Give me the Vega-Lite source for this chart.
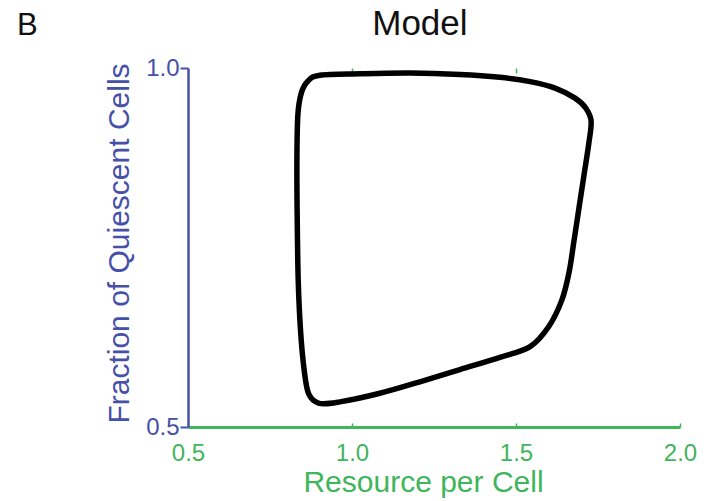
{
  "$schema": "https://vega.github.io/schema/vega-lite/v6.json",
  "autosize": "none",
  "width": 492,
  "height": 359,
  "padding": {"left": 188, "top": 68, "right": 42, "bottom": 74},
  "background": "white",
  "config": {
    "view": {"stroke": null},
    "font": "Liberation Sans",
    "axis": {"grid": false, "labelFont": "Liberation Sans", "titleFont": "Liberation Sans", "titleFontWeight": "normal", "labelFlush": false, "labelOverlap": false}
  },
  "datasets": {
    "cycle": [
      {"i": 1, "resource": 0.902, "quiescent": 0.990},
      {"i": 2, "resource": 1.024, "quiescent": 0.992},
      {"i": 3, "resource": 1.177, "quiescent": 0.993},
      {"i": 4, "resource": 1.329, "quiescent": 0.991},
      {"i": 5, "resource": 1.451, "quiescent": 0.987},
      {"i": 6, "resource": 1.543, "quiescent": 0.981},
      {"i": 7, "resource": 1.619, "quiescent": 0.972},
      {"i": 8, "resource": 1.680, "quiescent": 0.958},
      {"i": 9, "resource": 1.713, "quiescent": 0.944},
      {"i": 10, "resource": 1.729, "quiescent": 0.926},
      {"i": 11, "resource": 1.722, "quiescent": 0.895},
      {"i": 12, "resource": 1.707, "quiescent": 0.850},
      {"i": 13, "resource": 1.692, "quiescent": 0.805},
      {"i": 14, "resource": 1.677, "quiescent": 0.760},
      {"i": 15, "resource": 1.662, "quiescent": 0.716},
      {"i": 16, "resource": 1.640, "quiescent": 0.677},
      {"i": 17, "resource": 1.600, "quiescent": 0.640},
      {"i": 18, "resource": 1.543, "quiescent": 0.612},
      {"i": 19, "resource": 1.451, "quiescent": 0.597},
      {"i": 20, "resource": 1.329, "quiescent": 0.580},
      {"i": 21, "resource": 1.207, "quiescent": 0.563},
      {"i": 22, "resource": 1.085, "quiescent": 0.547},
      {"i": 23, "resource": 0.963, "quiescent": 0.535},
      {"i": 24, "resource": 0.900, "quiescent": 0.533},
      {"i": 25, "resource": 0.868, "quiescent": 0.546},
      {"i": 26, "resource": 0.854, "quiescent": 0.580},
      {"i": 27, "resource": 0.843, "quiescent": 0.635},
      {"i": 28, "resource": 0.836, "quiescent": 0.705},
      {"i": 29, "resource": 0.833, "quiescent": 0.790},
      {"i": 30, "resource": 0.832, "quiescent": 0.870},
      {"i": 31, "resource": 0.835, "quiescent": 0.935},
      {"i": 32, "resource": 0.846, "quiescent": 0.966},
      {"i": 33, "resource": 0.866, "quiescent": 0.982}
    ],
    "headings": [
      {"tag": "B", "resource": -0.021, "quiescent": 1.046},
      {"tag": "Model", "resource": 1.207, "quiescent": 1.046}
    ]
  },
  "layer": [
    {
      "data": {"name": "cycle"},
      "mark": {"type": "line", "interpolate": "cardinal-closed", "stroke": "#000000", "strokeWidth": 5.5, "strokeJoin": "round"},
      "encoding": {
        "x": {
          "field": "resource",
          "type": "quantitative",
          "scale": {"domain": [0.5, 2.0], "nice": false, "zero": false},
          "axis": {
            "orient": "bottom",
            "values": [0.5, 1.0, 1.5, 2.0],
            "format": ".1f",
            "domainColor": "#3fb55c",
            "domainWidth": 3,
            "tickColor": "#3fb55c",
            "tickWidth": 1.5,
            "tickSize": -4,
            "labelColor": "#3fb55c",
            "labelFontSize": 24,
            "labelPadding": 18,
            "title": "Resource per Cell",
            "titleColor": "#3fb55c",
            "titleFontSize": 30,
            "titleX": 235,
            "titleY": 64,
            "titleBaseline": "alphabetic",
            "titleAlign": "center"
          }
        },
        "y": {
          "field": "quiescent",
          "type": "quantitative",
          "scale": {"domain": [0.5, 1.0], "nice": false, "zero": false},
          "axis": {
            "orient": "left",
            "values": [0.5, 1.0],
            "format": ".1f",
            "domainColor": "#4650a8",
            "domainWidth": 2.5,
            "tickColor": "#4650a8",
            "tickWidth": 2,
            "tickSize": 8,
            "labelColor": "#4650a8",
            "labelFontSize": 24,
            "labelPadding": 1,
            "labelBaseline": "middle",
            "title": "Fraction of Quiescent Cells",
            "titleColor": "#4650a8",
            "titleFontSize": 30,
            "titleAngle": -90,
            "titleX": -60,
            "titleY": 175,
            "titleBaseline": "alphabetic",
            "titleAlign": "center"
          }
        },
        "order": {"field": "i", "type": "quantitative"}
      }
    },
    {
      "data": {"name": "cycle"},
      "mark": {"type": "point", "opacity": 0},
      "encoding": {
        "x": {
          "field": "resource",
          "type": "quantitative",
          "axis": {
            "orient": "top",
            "values": [1.0, 1.5],
            "domain": false,
            "labels": false,
            "tickColor": "#3fb55c",
            "tickWidth": 1.5,
            "tickSize": -5,
            "title": null
          }
        },
        "y": {"field": "quiescent", "type": "quantitative"}
      }
    },
    {
      "data": {"name": "headings"},
      "transform": [{"filter": "datum.tag === 'B'"}],
      "mark": {"type": "text", "fontSize": 31, "font": "Liberation Sans", "align": "left", "baseline": "alphabetic", "color": "#111111"},
      "encoding": {
        "x": {"field": "resource", "type": "quantitative", "axis": null},
        "y": {"field": "quiescent", "type": "quantitative"},
        "text": {"field": "tag"}
      }
    },
    {
      "data": {"name": "headings"},
      "transform": [{"filter": "datum.tag === 'Model'"}],
      "mark": {"type": "text", "fontSize": 35, "font": "Liberation Sans", "align": "center", "baseline": "alphabetic", "color": "#111111"},
      "encoding": {
        "x": {"field": "resource", "type": "quantitative", "axis": null},
        "y": {"field": "quiescent", "type": "quantitative"},
        "text": {"field": "tag"}
      }
    }
  ],
  "resolve": {"axis": {"x": "independent"}}
}
